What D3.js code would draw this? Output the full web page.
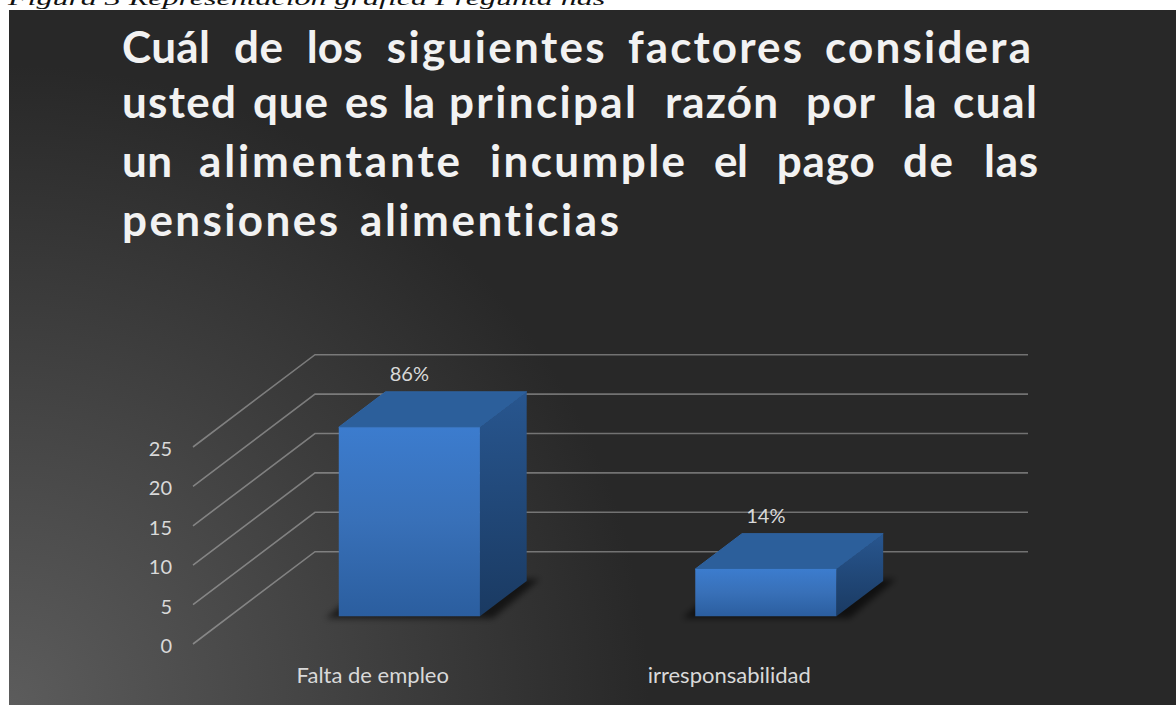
<!DOCTYPE html>
<html>
<head>
<meta charset="utf-8">
<style>
  html, body { margin: 0; background: #fff; }
  svg { display: block; }
  text { font-variant-ligatures: none; }
</style>
</head>
<body>
<div id="container"></div>
<script src="https://cdn.jsdelivr.net/npm/d3@7"></script>
<script>
// data
const categories = ["Falta de empleo", "irresponsabilidad"];
const values = [24, 6];
const valueLabels = ["86%", "14%"];
const yTicks = [0, 5, 10, 15, 20, 25];

// title words, [text, left x, width] per line, the original is justified
const titleLines = [
    [["Cuál", 122, 88], ["de", 234, 49], ["los", 306.7, 56], ["siguientes", 386.7, 218], ["factores", 628, 174], ["considera", 825, 206]],
    [["usted", 122, 114], ["que", 253, 75], ["es", 345, 43], ["la", 403, 32], ["principal", 449, 187], ["razón", 665, 113], ["por", 806, 69], ["la", 902.7, 34], ["cual", 953, 84]],
    [["un", 122, 50], ["alimentante", 199, 261], ["incumple", 490, 195], ["el", 714, 34], ["pago", 776.7, 98], ["de", 903, 50], ["las", 984, 54]],
    [["pensiones", 122, 216], ["alimenticias", 360, 259]]
];
const titleBaselines = [63.3, 118.3, 177.3, 235.7];

const width = 1176, height = 705;
const floorX = 193, floorY = 644, floorW = 713;
const depthX = 122, depthY = 92.3;
const barFront = 0.3, barBack = 0.683;

const svg = d3.select("#container").append("svg")
    .attr("width", width)
    .attr("height", height);

const defs = svg.append("defs");

const bg = defs.append("radialGradient")
    .attr("id", "bg")
    .attr("gradientUnits", "userSpaceOnUse")
    .attr("cx", 9).attr("cy", 705).attr("r", 640);
bg.append("stop").attr("offset", 0).attr("stop-color", "#5c5c5c");
bg.append("stop").attr("offset", 0.45).attr("stop-color", "#454545");
bg.append("stop").attr("offset", 1).attr("stop-color", "#282828");

const front = defs.append("linearGradient")
    .attr("id", "front").attr("x1", 0).attr("y1", 0).attr("x2", 0).attr("y2", 1);
front.append("stop").attr("offset", 0).attr("stop-color", "#3c7cce");
front.append("stop").attr("offset", 0.5).attr("stop-color", "#3870b8");
front.append("stop").attr("offset", 1).attr("stop-color", "#2b5e9f");

const side = defs.append("linearGradient")
    .attr("id", "side").attr("x1", 0).attr("y1", 0).attr("x2", 0).attr("y2", 1);
side.append("stop").attr("offset", 0).attr("stop-color", "#28568f");
side.append("stop").attr("offset", 1).attr("stop-color", "#1a3a62");

defs.append("filter").attr("id", "blur")
    .attr("x", "-20%").attr("y", "-40%").attr("width", "140%").attr("height", "180%")
    .append("feGaussianBlur").attr("stdDeviation", 3);

// caption, its top is cut by the picture and it looks squashed
svg.append("text")
    .attr("transform", "translate(8,4.5) scale(1,0.6)")
    .attr("font-family", "Liberation Serif")
    .attr("font-style", "italic")
    .attr("font-size", 32)
    .attr("fill", "#111")
    .text("Figura 3 Representación gráfica Pregunta nás");

svg.append("rect")
    .attr("x", 9).attr("y", 10)
    .attr("width", width - 9).attr("height", height - 10)
    .attr("fill", "url(#bg)");

// title
titleLines.forEach((line, i) => {
    svg.append("g").selectAll("text")
        .data(line)
        .join("text")
        .attr("x", d => d[1])
        .attr("y", titleBaselines[i])
        .attr("textLength", d => d[2])
        .attr("lengthAdjust", "spacing")
        .attr("font-family", "Lato")
        .attr("font-weight", 700)
        .attr("font-size", 44)
        .attr("fill", "#f2f2f2")
        .text(d => d[0]);
});

// scales
const y = d3.scaleLinear().domain([0, 25]).range([0, 197]);
const x = d3.scaleBand().domain(categories).range([1.5, floorW + 1.5])
    .paddingInner(0.604).paddingOuter(0.302);

// 3d projection: position along the floor, value, depth 0..1
const px = (xv, d) => floorX + xv + d * depthX;
const py = (v, d) => floorY - y(v) - d * depthY;
const poly = pts => pts.map(p => p.join(",")).join(" ");

// gridlines, front edge runs into the back wall
const grid = svg.append("g")
    .attr("fill", "none")
    .attr("stroke", "#d9d9d9")
    .attr("stroke-opacity", 0.42)
    .attr("stroke-width", 1.6);
grid.selectAll("polyline")
    .data(yTicks)
    .join("polyline")
    .attr("points", v => poly([
        [px(0, 0), py(v, 0)],
        [px(0, 1), py(v, 1)],
        [px(floorW, 1), py(v, 1)]
    ]));

// y axis labels
const yAxis = svg.append("g")
    .attr("transform", `translate(172,${floorY}) scale(1,-1)`)
    .call(d3.axisLeft(y).tickValues(yTicks).tickSize(0).tickPadding(0));
yAxis.select(".domain").remove();
yAxis.selectAll("text")
    .attr("transform", "scale(1,-1)")
    .attr("dy", 9.5)
    .attr("font-family", "Lato")
    .attr("font-size", 20)
    .attr("fill", "#d9d9d9");

// category labels
const xAxis = svg.append("g")
    .attr("transform", `translate(${floorX},683)`)
    .call(d3.axisBottom(x).tickSize(0).tickPadding(0));
xAxis.select(".domain").remove();
xAxis.selectAll("text")
    .attr("y", 0)
    .attr("dy", 0)
    .attr("font-family", "Lato")
    .attr("font-size", 22)
    .attr("fill", "#d9d9d9");

// bars
const bars = svg.append("g").selectAll("g")
    .data(categories.map((c, i) => ({ c, v: values[i], label: valueLabels[i] })))
    .join("g");

bars.append("polygon")
    .attr("points", d => {
        const l = x(d.c) - 13, r = x(d.c) + x.bandwidth() + 13;
        return poly([
            [px(l, barFront), py(0, barFront) + 2],
            [px(r, barFront), py(0, barFront) + 2],
            [px(r, barBack), py(0, barBack) - 2],
            [px(l, barBack), py(0, barBack) - 2]
        ]);
    })
    .attr("fill", "#000")
    .attr("fill-opacity", 0.6)
    .attr("filter", "url(#blur)");

bars.append("polygon")
    .attr("fill", "#2c5f9b")
    .attr("stroke", "#2f64a3")
    .attr("stroke-linejoin", "round")
    .attr("points", d => {
        const l = x(d.c), r = l + x.bandwidth();
        return poly([
            [px(l, barFront), py(d.v, barFront)],
            [px(r, barFront), py(d.v, barFront)],
            [px(r, barBack), py(d.v, barBack)],
            [px(l, barBack), py(d.v, barBack)]
        ]);
    });

bars.append("polygon")
    .attr("fill", "url(#side)")
    .attr("points", d => {
        const r = x(d.c) + x.bandwidth();
        return poly([
            [px(r, barFront), py(d.v, barFront)],
            [px(r, barBack), py(d.v, barBack)],
            [px(r, barBack), py(0, barBack)],
            [px(r, barFront), py(0, barFront)]
        ]);
    });

bars.append("polygon")
    .attr("fill", "url(#front)")
    .attr("points", d => {
        const l = x(d.c), r = l + x.bandwidth();
        return poly([
            [px(l, barFront), py(d.v, barFront)],
            [px(r, barFront), py(d.v, barFront)],
            [px(r, barFront), py(0, barFront)],
            [px(l, barFront), py(0, barFront)]
        ]);
    });

// value labels
bars.append("text")
    .attr("x", d => px(x(d.c) + x.bandwidth() / 2, barFront))
    .attr("y", d => py(d.v, barFront) - 45.7)
    .attr("text-anchor", "middle")
    .attr("font-family", "Lato")
    .attr("font-size", 20)
    .attr("fill", "#d9d9d9")
    .text(d => d.label);
</script>
</body>
</html>
